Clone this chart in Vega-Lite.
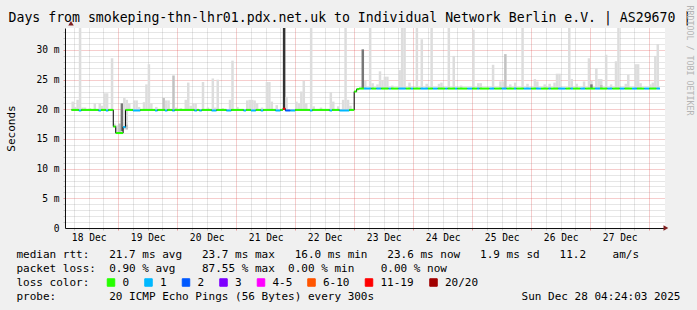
{
  "$schema": "https://vega.github.io/schema/vega-lite/v6.json",
  "width": 600,
  "height": 200,
  "autosize": {"type": "none"},
  "padding": {"left": 65, "top": 28, "right": 32, "bottom": 82},
  "background": "#f0f0f0",
  "view": {"fill": "#ffffff", "stroke": null},
  "config": {
    "font": "DejaVu Sans Mono",
    "axis": {"labelFont": "DejaVu Sans Mono", "titleFont": "DejaVu Sans Mono", "titleFontWeight": "normal", "labelColor": "#000000", "titleColor": "#000000"}
  },
  "datasets": {
    "smoke": [
      {"t": 5.5, "lo": 19.9, "hi": 21.3, "k": "a"},
      {"t": 6.5, "lo": 19.9, "hi": 20.4, "k": "a"},
      {"t": 7.5, "lo": 19.9, "hi": 21.6, "k": "a"},
      {"t": 8.5, "lo": 19.8, "hi": 36, "k": "a"},
      {"t": 9.5, "lo": 19.9, "hi": 20.3, "k": "a"},
      {"t": 10.5, "lo": 19.9, "hi": 20.3, "k": "a"},
      {"t": 12.5, "lo": 19.9, "hi": 20.2, "k": "a"},
      {"t": 14.5, "lo": 19.9, "hi": 21.0, "k": "a"},
      {"t": 16.5, "lo": 19.8, "hi": 21.0, "k": "a"},
      {"t": 17.5, "lo": 19.9, "hi": 20.6, "k": "a"},
      {"t": 18.5, "lo": 19.9, "hi": 22.7, "k": "a"},
      {"t": 19.5, "lo": 19.8, "hi": 22.7, "k": "a"},
      {"t": 21.5, "lo": 19.9, "hi": 28.6, "k": "a"},
      {"t": 22.5, "lo": 17.1, "hi": 17.6, "k": "a"},
      {"t": 23.5, "lo": 16.0, "hi": 17.3, "k": "a"},
      {"t": 24.5, "lo": 16.0, "hi": 17.6, "k": "b"},
      {"t": 25.5, "lo": 16.3, "hi": 21.0, "k": "c"},
      {"t": 26.5, "lo": 16.6, "hi": 21.9, "k": "a"},
      {"t": 27.5, "lo": 16.6, "hi": 21.6, "k": "a"},
      {"t": 27.5, "lo": 16.6, "hi": 17.4, "k": "b"},
      {"t": 28.5, "lo": 19.9, "hi": 21.0, "k": "a"},
      {"t": 30.5, "lo": 19.8, "hi": 21.5, "k": "a"},
      {"t": 31.5, "lo": 19.8, "hi": 21.5, "k": "a"},
      {"t": 32.5, "lo": 19.8, "hi": 20.4, "k": "a"},
      {"t": 34.5, "lo": 19.9, "hi": 21.2, "k": "a"},
      {"t": 35.5, "lo": 19.9, "hi": 24.2, "k": "a"},
      {"t": 36.5, "lo": 19.9, "hi": 27.6, "k": "a"},
      {"t": 37.5, "lo": 19.9, "hi": 21.0, "k": "a"},
      {"t": 39.5, "lo": 19.8, "hi": 20.4, "k": "a"},
      {"t": 42.5, "lo": 19.9, "hi": 21.9, "k": "b"},
      {"t": 43.5, "lo": 19.8, "hi": 21.5, "k": "a"},
      {"t": 44.5, "lo": 19.9, "hi": 21.5, "k": "a"},
      {"t": 46.5, "lo": 19.8, "hi": 25.7, "k": "b"},
      {"t": 47.5, "lo": 19.9, "hi": 20.3, "k": "a"},
      {"t": 49.5, "lo": 19.9, "hi": 20.2, "k": "a"},
      {"t": 51.5, "lo": 19.9, "hi": 21.6, "k": "a"},
      {"t": 52.5, "lo": 19.9, "hi": 24.5, "k": "a"},
      {"t": 53.5, "lo": 19.9, "hi": 20.6, "k": "a"},
      {"t": 54.5, "lo": 19.9, "hi": 21.0, "k": "a"},
      {"t": 55.5, "lo": 19.8, "hi": 21.0, "k": "a"},
      {"t": 58.5, "lo": 19.9, "hi": 24.6, "k": "a"},
      {"t": 60.5, "lo": 19.9, "hi": 20.3, "k": "a"},
      {"t": 62.5, "lo": 19.8, "hi": 25.2, "k": "a"},
      {"t": 63.5, "lo": 19.8, "hi": 20.3, "k": "a"},
      {"t": 64.5, "lo": 19.9, "hi": 25.0, "k": "a"},
      {"t": 66.5, "lo": 19.9, "hi": 20.2, "k": "a"},
      {"t": 69.5, "lo": 19.8, "hi": 21.6, "k": "a"},
      {"t": 70.5, "lo": 19.9, "hi": 28.2, "k": "a"},
      {"t": 72.5, "lo": 19.9, "hi": 20.4, "k": "a"},
      {"t": 76.5, "lo": 19.9, "hi": 21.5, "k": "a"},
      {"t": 77.5, "lo": 19.9, "hi": 21.6, "k": "a"},
      {"t": 78.5, "lo": 19.8, "hi": 21.6, "k": "a"},
      {"t": 79.5, "lo": 19.8, "hi": 21.5, "k": "a"},
      {"t": 80.5, "lo": 19.9, "hi": 21.0, "k": "a"},
      {"t": 82.5, "lo": 19.8, "hi": 20.3, "k": "a"},
      {"t": 84.5, "lo": 19.9, "hi": 24.6, "k": "a"},
      {"t": 85.5, "lo": 19.9, "hi": 24.6, "k": "a"},
      {"t": 86.5, "lo": 19.9, "hi": 21.3, "k": "a"},
      {"t": 88.5, "lo": 19.8, "hi": 20.7, "k": "a"},
      {"t": 91.5, "lo": 20.0, "hi": 36, "k": "d"},
      {"t": 92.5, "lo": 19.8, "hi": 22.1, "k": "a"},
      {"t": 96.5, "lo": 19.9, "hi": 21.3, "k": "a"},
      {"t": 97.5, "lo": 19.9, "hi": 21.0, "k": "a"},
      {"t": 98.5, "lo": 19.9, "hi": 23.0, "k": "a"},
      {"t": 99.5, "lo": 19.9, "hi": 24.8, "k": "a"},
      {"t": 100.5, "lo": 19.9, "hi": 21.0, "k": "a"},
      {"t": 102.5, "lo": 19.8, "hi": 36, "k": "a"},
      {"t": 103.5, "lo": 19.9, "hi": 20.5, "k": "a"},
      {"t": 106.5, "lo": 19.9, "hi": 20.3, "k": "a"},
      {"t": 110.5, "lo": 19.8, "hi": 22.9, "k": "a"},
      {"t": 111.5, "lo": 19.9, "hi": 21.3, "k": "a"},
      {"t": 113.5, "lo": 19.9, "hi": 20.5, "k": "a"},
      {"t": 115.5, "lo": 19.8, "hi": 21.6, "k": "a"},
      {"t": 116.5, "lo": 19.8, "hi": 36, "k": "a"},
      {"t": 117.5, "lo": 19.8, "hi": 21.6, "k": "a"},
      {"t": 118.5, "lo": 19.9, "hi": 20.6, "k": "a"},
      {"t": 123.5, "lo": 23.5, "hi": 30.1, "k": "c"},
      {"t": 124.5, "lo": 23.5, "hi": 24.8, "k": "a"},
      {"t": 126.5, "lo": 23.5, "hi": 36, "k": "a"},
      {"t": 127.5, "lo": 23.5, "hi": 24.4, "k": "a"},
      {"t": 129.5, "lo": 23.5, "hi": 24.2, "k": "a"},
      {"t": 130.5, "lo": 23.5, "hi": 26.4, "k": "a"},
      {"t": 131.5, "lo": 23.5, "hi": 24.9, "k": "a"},
      {"t": 132.5, "lo": 23.5, "hi": 25.5, "k": "a"},
      {"t": 133.5, "lo": 23.5, "hi": 25.5, "k": "a"},
      {"t": 135.5, "lo": 23.5, "hi": 24.0, "k": "a"},
      {"t": 138.5, "lo": 23.5, "hi": 26.6, "k": "a"},
      {"t": 139.5, "lo": 23.5, "hi": 36, "k": "a"},
      {"t": 140.5, "lo": 23.5, "hi": 36, "k": "a"},
      {"t": 142.5, "lo": 23.5, "hi": 24.5, "k": "a"},
      {"t": 145.5, "lo": 23.5, "hi": 36, "k": "a"},
      {"t": 147.5, "lo": 23.5, "hi": 31.8, "k": "a"},
      {"t": 149.5, "lo": 23.5, "hi": 24.3, "k": "a"},
      {"t": 151.5, "lo": 23.5, "hi": 36, "k": "a"},
      {"t": 154.5, "lo": 23.5, "hi": 24.3, "k": "a"},
      {"t": 155.5, "lo": 23.5, "hi": 24.5, "k": "a"},
      {"t": 158.5, "lo": 23.5, "hi": 36, "k": "a"},
      {"t": 160.5, "lo": 23.5, "hi": 29.0, "k": "a"},
      {"t": 163.5, "lo": 23.5, "hi": 24.0, "k": "a"},
      {"t": 168.5, "lo": 23.5, "hi": 33.4, "k": "a"},
      {"t": 170.5, "lo": 23.5, "hi": 24.4, "k": "a"},
      {"t": 171.5, "lo": 23.5, "hi": 24.4, "k": "a"},
      {"t": 176.5, "lo": 23.5, "hi": 27.5, "k": "a"},
      {"t": 179.5, "lo": 23.5, "hi": 24.7, "k": "a"},
      {"t": 180.5, "lo": 23.5, "hi": 24.7, "k": "a"},
      {"t": 181.5, "lo": 23.5, "hi": 29.3, "k": "b"},
      {"t": 183.5, "lo": 23.5, "hi": 24.2, "k": "a"},
      {"t": 185.5, "lo": 23.5, "hi": 24.5, "k": "a"},
      {"t": 188.5, "lo": 23.5, "hi": 36, "k": "a"},
      {"t": 190.5, "lo": 23.5, "hi": 24.3, "k": "a"},
      {"t": 193.5, "lo": 23.5, "hi": 25.1, "k": "a"},
      {"t": 194.5, "lo": 23.5, "hi": 24.7, "k": "a"},
      {"t": 197.5, "lo": 23.5, "hi": 24.2, "k": "a"},
      {"t": 199.5, "lo": 23.5, "hi": 24.3, "k": "a"},
      {"t": 201.5, "lo": 23.5, "hi": 24.5, "k": "a"},
      {"t": 202.5, "lo": 23.5, "hi": 26.0, "k": "a"},
      {"t": 203.5, "lo": 23.5, "hi": 26.0, "k": "a"},
      {"t": 207.5, "lo": 23.5, "hi": 36, "k": "a"},
      {"t": 208.5, "lo": 23.5, "hi": 25.1, "k": "a"},
      {"t": 210.5, "lo": 23.5, "hi": 24.3, "k": "a"},
      {"t": 213.5, "lo": 23.5, "hi": 24.7, "k": "a"},
      {"t": 215.5, "lo": 23.5, "hi": 28.6, "k": "a"},
      {"t": 216.5, "lo": 23.5, "hi": 24.8, "k": "a"},
      {"t": 216.5, "lo": 23.5, "hi": 24.2, "k": "c"},
      {"t": 218.5, "lo": 23.5, "hi": 26.9, "k": "a"},
      {"t": 219.5, "lo": 23.5, "hi": 25.1, "k": "a"},
      {"t": 220.5, "lo": 23.5, "hi": 25.1, "k": "a"},
      {"t": 220.5, "lo": 23.5, "hi": 24.1, "k": "b"},
      {"t": 222.5, "lo": 23.5, "hi": 29.2, "k": "a"},
      {"t": 224.5, "lo": 23.5, "hi": 24.2, "k": "a"},
      {"t": 226.5, "lo": 23.5, "hi": 28.1, "k": "a"},
      {"t": 227.5, "lo": 23.5, "hi": 36, "k": "a"},
      {"t": 230.5, "lo": 23.5, "hi": 24.3, "k": "a"},
      {"t": 231.5, "lo": 23.5, "hi": 25.8, "k": "a"},
      {"t": 234.5, "lo": 23.5, "hi": 27.6, "k": "a"},
      {"t": 235.5, "lo": 23.5, "hi": 27.6, "k": "a"},
      {"t": 236.5, "lo": 23.5, "hi": 24.4, "k": "a"},
      {"t": 240.5, "lo": 23.5, "hi": 24.2, "k": "a"},
      {"t": 241.5, "lo": 23.5, "hi": 24.5, "k": "a"},
      {"t": 242.5, "lo": 23.5, "hi": 29.0, "k": "a"},
      {"t": 243.5, "lo": 23.5, "hi": 31.0, "k": "a"}
    ],
    "med": [
      {"a": 5, "b": 8, "m": 19.9, "l": "0"},
      {"a": 8, "b": 9, "m": 19.8, "l": "1"},
      {"a": 9, "b": 16, "m": 19.9, "l": "0"},
      {"a": 16, "b": 17, "m": 19.8, "l": "1"},
      {"a": 17, "b": 19, "m": 19.9, "l": "0"},
      {"a": 19, "b": 20, "m": 19.8, "l": "1"},
      {"a": 20, "b": 22, "m": 19.9, "l": "0"},
      {"a": 22, "b": 23, "m": 17.1, "l": "0"},
      {"a": 23, "b": 26, "m": 16.0, "l": "0"},
      {"a": 26, "b": 27, "m": 17.0, "l": "1"},
      {"a": 27, "b": 30, "m": 19.9, "l": "0"},
      {"a": 30, "b": 33, "m": 19.8, "l": "1"},
      {"a": 33, "b": 39, "m": 19.9, "l": "0"},
      {"a": 39, "b": 40, "m": 19.8, "l": "1"},
      {"a": 40, "b": 43, "m": 19.9, "l": "0"},
      {"a": 43, "b": 44, "m": 19.8, "l": "1"},
      {"a": 44, "b": 46, "m": 19.9, "l": "0"},
      {"a": 46, "b": 47, "m": 19.8, "l": "1"},
      {"a": 47, "b": 55, "m": 19.9, "l": "0"},
      {"a": 55, "b": 56, "m": 19.8, "l": "1"},
      {"a": 56, "b": 57, "m": 19.9, "l": "0"},
      {"a": 57, "b": 58, "m": 19.8, "l": "1"},
      {"a": 58, "b": 62, "m": 19.9, "l": "0"},
      {"a": 62, "b": 64, "m": 19.8, "l": "1"},
      {"a": 64, "b": 68, "m": 19.9, "l": "0"},
      {"a": 68, "b": 70, "m": 19.8, "l": "1"},
      {"a": 70, "b": 75, "m": 19.9, "l": "0"},
      {"a": 75, "b": 76, "m": 19.8, "l": "1"},
      {"a": 76, "b": 78, "m": 19.9, "l": "0"},
      {"a": 78, "b": 80, "m": 19.8, "l": "1"},
      {"a": 80, "b": 82, "m": 19.9, "l": "0"},
      {"a": 82, "b": 83, "m": 19.8, "l": "1"},
      {"a": 83, "b": 88, "m": 19.9, "l": "0"},
      {"a": 88, "b": 90, "m": 19.8, "l": "1"},
      {"a": 90, "b": 91, "m": 19.9, "l": "0"},
      {"a": 91, "b": 92, "m": 20.1, "l": "11-19"},
      {"a": 92, "b": 94, "m": 19.8, "l": "2"},
      {"a": 94, "b": 96, "m": 19.8, "l": "1"},
      {"a": 96, "b": 102, "m": 19.9, "l": "0"},
      {"a": 102, "b": 103, "m": 19.8, "l": "1"},
      {"a": 103, "b": 110, "m": 19.9, "l": "0"},
      {"a": 110, "b": 111, "m": 19.8, "l": "1"},
      {"a": 111, "b": 114, "m": 19.9, "l": "0"},
      {"a": 114, "b": 118, "m": 19.8, "l": "1"},
      {"a": 118, "b": 120, "m": 19.9, "l": "0"},
      {"a": 120, "b": 121, "m": 23.0, "l": "0"},
      {"a": 121, "b": 122, "m": 23.4, "l": "0"},
      {"a": 122, "b": 124, "m": 23.5, "l": "0"},
      {"a": 124, "b": 127, "m": 23.5, "l": "1"},
      {"a": 127, "b": 129, "m": 23.5, "l": "0"},
      {"a": 129, "b": 131, "m": 23.5, "l": "1"},
      {"a": 131, "b": 134, "m": 23.5, "l": "0"},
      {"a": 134, "b": 135, "m": 23.5, "l": "1"},
      {"a": 135, "b": 138, "m": 23.5, "l": "0"},
      {"a": 138, "b": 141, "m": 23.5, "l": "1"},
      {"a": 141, "b": 143, "m": 23.5, "l": "0"},
      {"a": 143, "b": 144, "m": 23.5, "l": "1"},
      {"a": 144, "b": 147, "m": 23.5, "l": "0"},
      {"a": 147, "b": 150, "m": 23.5, "l": "1"},
      {"a": 150, "b": 152, "m": 23.5, "l": "0"},
      {"a": 152, "b": 154, "m": 23.5, "l": "1"},
      {"a": 154, "b": 157, "m": 23.5, "l": "0"},
      {"a": 157, "b": 158, "m": 23.5, "l": "1"},
      {"a": 158, "b": 161, "m": 23.5, "l": "0"},
      {"a": 161, "b": 162, "m": 23.5, "l": "1"},
      {"a": 162, "b": 166, "m": 23.5, "l": "0"},
      {"a": 166, "b": 168, "m": 23.5, "l": "1"},
      {"a": 168, "b": 170, "m": 23.5, "l": "0"},
      {"a": 170, "b": 171, "m": 23.5, "l": "1"},
      {"a": 171, "b": 175, "m": 23.5, "l": "0"},
      {"a": 175, "b": 177, "m": 23.5, "l": "1"},
      {"a": 177, "b": 180, "m": 23.5, "l": "0"},
      {"a": 180, "b": 182, "m": 23.5, "l": "1"},
      {"a": 182, "b": 185, "m": 23.5, "l": "0"},
      {"a": 185, "b": 186, "m": 23.5, "l": "1"},
      {"a": 186, "b": 189, "m": 23.5, "l": "0"},
      {"a": 189, "b": 192, "m": 23.5, "l": "1"},
      {"a": 192, "b": 194, "m": 23.5, "l": "0"},
      {"a": 194, "b": 196, "m": 23.5, "l": "1"},
      {"a": 196, "b": 199, "m": 23.5, "l": "0"},
      {"a": 199, "b": 200, "m": 23.5, "l": "1"},
      {"a": 200, "b": 203, "m": 23.5, "l": "0"},
      {"a": 203, "b": 206, "m": 23.5, "l": "1"},
      {"a": 206, "b": 208, "m": 23.5, "l": "0"},
      {"a": 208, "b": 209, "m": 23.5, "l": "1"},
      {"a": 209, "b": 212, "m": 23.5, "l": "0"},
      {"a": 212, "b": 214, "m": 23.5, "l": "1"},
      {"a": 214, "b": 218, "m": 23.5, "l": "0"},
      {"a": 218, "b": 220, "m": 23.5, "l": "1"},
      {"a": 220, "b": 223, "m": 23.5, "l": "0"},
      {"a": 223, "b": 225, "m": 23.5, "l": "1"},
      {"a": 225, "b": 228, "m": 23.5, "l": "0"},
      {"a": 228, "b": 230, "m": 23.5, "l": "1"},
      {"a": 230, "b": 233, "m": 23.5, "l": "0"},
      {"a": 233, "b": 235, "m": 23.5, "l": "1"},
      {"a": 235, "b": 238, "m": 23.5, "l": "0"},
      {"a": 238, "b": 240, "m": 23.5, "l": "1"},
      {"a": 240, "b": 243, "m": 23.5, "l": "0"},
      {"a": 243, "b": 244.4, "m": 23.5, "l": "1"}
    ]
  },
  "resolve": {"axis": {"x": "independent", "y": "independent"}},
  "layer": [
    {
      "data": {"name": "smoke"},
      "mark": {"type": "bar", "width": 2.5, "clip": true},
      "encoding": {
        "x": {
          "field": "t", "type": "quantitative",
          "scale": {"domain": [4.4, 244.4], "nice": false, "zero": false},
          "axis": {
            "orient": "bottom",
            "values": [6, 12, 18, 30, 36, 42, 54, 60, 66, 78, 84, 90, 102, 108, 114, 126, 132, 138, 150, 156, 162, 174, 180, 186, 198, 204, 210, 222, 228, 234],
            "grid": true, "gridColor": "#8f8f8f", "gridOpacity": 0.46, "gridDash": [1, 1],
            "labels": false, "ticks": true, "tickSize": 2, "tickColor": "#8f8f8f", "tickOpacity": 0.46,
            "domain": false,
            "title": "Sun Dec 28 04:24:03 2025", "titleX": 615, "titleY": 71.7, "titleAlign": "right",
            "titleBaseline": "alphabetic", "titleFontSize": 11, "titleAngle": 0
          }
        },
        "y": {
          "field": "lo", "type": "quantitative",
          "scale": {"domain": [0, 33.7], "nice": false, "zero": true},
          "axis": {
            "orient": "left",
            "values": [1, 2, 3, 4, 6, 7, 8, 9, 11, 12, 13, 14, 16, 17, 18, 19, 21, 22, 23, 24, 26, 27, 28, 29, 31, 32, 33],
            "grid": true, "gridColor": "#8f8f8f", "gridOpacity": 0.46, "gridDash": [1, 1],
            "labels": false, "ticks": true, "tickSize": 2, "tickColor": "#8f8f8f", "tickOpacity": 0.46,
            "domain": false, "title": null
          }
        },
        "y2": {"field": "hi"},
        "fill": {
          "field": "k", "type": "nominal",
          "scale": {"domain": ["a", "b", "c", "d"], "range": ["#dddddd", "#c2c2c2", "#777777", "#333333"]},
          "legend": null
        }
      }
    },
    {
      "data": {"name": "med"},
      "mark": {"type": "line", "interpolate": "step-after", "color": "#000000", "strokeWidth": 1},
      "encoding": {
        "x": {
          "field": "a", "type": "quantitative",
          "axis": {
            "orient": "bottom",
            "values": [24, 48, 72, 96, 120, 144, 168, 192, 216, 240],
            "grid": true, "gridColor": "#de5050", "gridOpacity": 0.57, "gridDash": [1, 1],
            "labels": false, "ticks": true, "tickSize": 2, "tickColor": "#de5050", "tickOpacity": 0.57,
            "domain": false,
            "title": [
              "median rtt:\u00a0\u00a0\u00a021.7 ms avg\u00a0\u00a0\u00a023.7 ms max\u00a0\u00a0\u00a016.0 ms min\u00a0\u00a0\u00a023.6 ms now\u00a0\u00a0\u00a01.9 ms sd\u00a0\u00a0\u00a011.2\u00a0\u00a0\u00a0\u00a0am/s",
              "packet loss:\u00a0\u00a00.90 % avg\u00a0\u00a0\u00a0\u00a087.55 % max\u00a0\u00a00.00 % min\u00a0\u00a0\u00a0\u00a00.00 % now",
              "loss color:",
              "probe:\u00a0\u00a0\u00a0\u00a0\u00a0\u00a0\u00a0\u00a020 ICMP Echo Pings (56 Bytes) every 300s"
            ],
            "titleX": -49, "titleY": 29.7, "titleAlign": "left", "titleBaseline": "alphabetic",
            "titleLineHeight": 14, "titleFontSize": 11, "titleAngle": 0
          }
        },
        "y": {
          "field": "m", "type": "quantitative",
          "axis": {
            "orient": "left",
            "values": [5, 10, 15, 20, 25, 30],
            "grid": true, "gridColor": "#de5050", "gridOpacity": 0.57, "gridDash": [1, 1],
            "labels": false, "ticks": true, "tickSize": 2, "tickColor": "#de5050", "tickOpacity": 0.57,
            "domain": false, "title": null
          }
        }
      }
    },
    {
      "data": {"name": "med"},
      "mark": {"type": "rule", "strokeWidth": 2},
      "encoding": {
        "x": {
          "field": "a", "type": "quantitative",
          "axis": {
            "orient": "bottom",
            "values": [12, 36, 60, 84, 108, 132, 156, 180, 204, 228],
            "labelExpr": "(18 + floor(datum.value / 24)) + ' Dec'",
            "grid": false, "ticks": false, "domain": true, "domainColor": "#101010", "domainWidth": 1,
            "labelFontSize": 9.6, "labelPadding": 12.3, "labelBaseline": "alphabetic", "labelAlign": "center",
            "labelFlush": false, "labelOverlap": false, "title": null
          }
        },
        "x2": {"field": "b"},
        "y": {
          "field": "m", "type": "quantitative",
          "axis": {
            "orient": "left",
            "values": [0, 5, 10, 15, 20, 25, 30],
            "labelExpr": "datum.value == 0 ? '0' : datum.value + ' m'",
            "grid": false, "ticks": false, "domain": true, "domainColor": "#101010", "domainWidth": 1,
            "labelFontSize": 9.6, "labelPadding": 6, "labelBaseline": "middle",
            "labelFlush": false, "labelOverlap": false,
            "title": "Seconds", "titleX": -54, "titleY": 100, "titleAngle": -90,
            "titleAlign": "center", "titleBaseline": "middle", "titleFontSize": 11
          }
        },
        "color": {
          "field": "l", "type": "nominal",
          "scale": {
            "domain": ["0", "1", "2", "3", "4-5", "6-10", "11-19", "20/20"],
            "range": ["#26ff00", "#00b8ff", "#0059ff", "#7e00ff", "#ff00ff", "#ff5500", "#ff0000", "#a10000"]
          },
          "legend": {
            "orient": "none", "legendX": 40.5, "legendY": 249, "direction": "horizontal", "title": null,
            "gridAlign": "none",
            "symbolType": "square", "symbolSize": 56, "symbolStrokeWidth": 1, "symbolStrokeColor": "#000000",
            "labelFont": "DejaVu Sans Mono", "labelFontSize": 11, "labelColor": "#000000",
            "labelOffset": 6, "columnPadding": 12.5,
            "encode": {
              "symbols": {
                "enter": {
                  "fill": {"scale": "color", "field": "value"},
                  "stroke": {"value": "#000000"},
                  "strokeWidth": {"value": 1}
                },
                "update": {
                  "fill": {"scale": "color", "field": "value"},
                  "stroke": {"value": "#000000"},
                  "strokeWidth": {"value": 1},
                  "opacity": {"value": 1}
                }
              }
            }
          }
        }
      }
    },
    {
      "data": {"values": [{}]},
      "mark": {"type": "point", "shape": "triangle-right", "filled": true, "color": "#7f1f1f", "size": 30, "opacity": 1, "clip": false},
      "encoding": {
        "x": {"datum": 246.8, "type": "quantitative", "axis": null},
        "y": {
          "datum": 0, "type": "quantitative",
          "axis": {
            "orient": "right", "labels": false, "ticks": false, "domain": false, "grid": false,
            "title": "RRDTOOL / TOBI OETIKER", "titleX": 23, "titleY": -23, "titleAngle": 90,
            "titleAlign": "left", "titleBaseline": "middle", "titleFontSize": 8.3, "titleColor": "#b4b4b4"
          }
        }
      }
    },
    {
      "data": {"values": [{}]},
      "mark": {"type": "point", "shape": "triangle-up", "filled": true, "color": "#7f1f1f", "size": 30, "opacity": 1, "clip": false},
      "encoding": {
        "x": {
          "datum": 4.8, "type": "quantitative",
          "axis": {
            "orient": "top", "labels": false, "ticks": false, "domain": false, "grid": false,
            "title": "Days from smokeping-thn-lhr01.pdx.net.uk to Individual Network Berlin e.V. | AS29670 |",
            "titleX": -57, "titleY": -7, "titleAngle": 0, "titleAlign": "left", "titleBaseline": "alphabetic",
            "titleFontSize": 13.2, "titleColor": "#000000"
          }
        },
        "y": {"datum": 34.5, "type": "quantitative", "axis": null}
      }
    }
  ]
}
